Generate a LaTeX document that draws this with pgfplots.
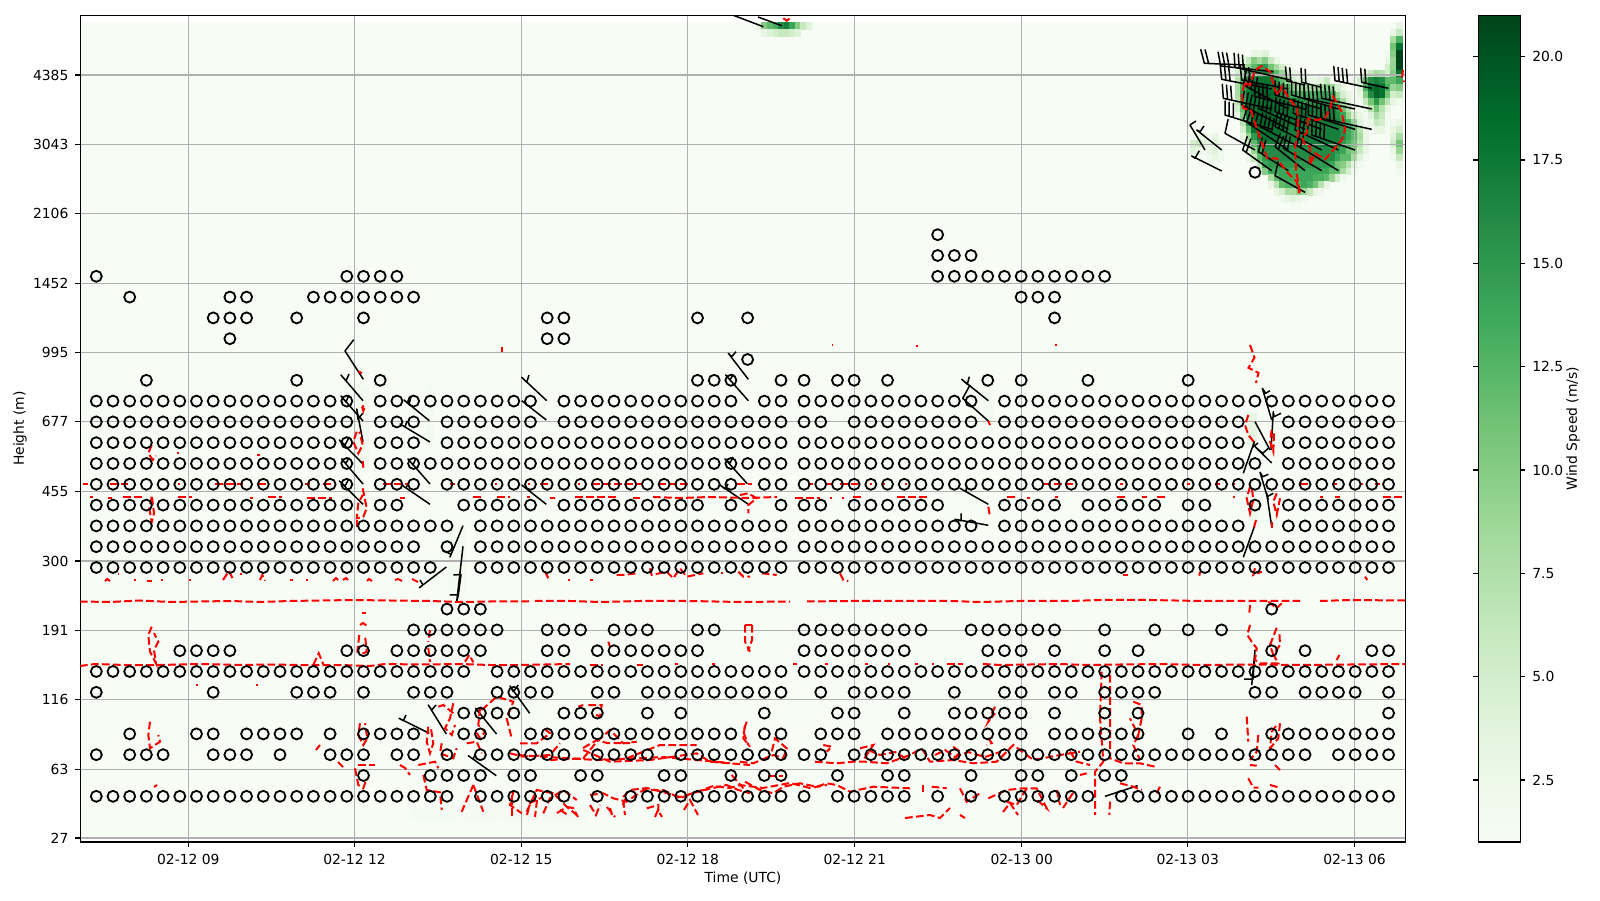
\documentclass[border=0pt]{standalone}
\usepackage{pgfplots}
\pgfplotsset{compat=1.18}
\usepackage{fontspec}
\setmainfont{DejaVu Sans}
\usepgfplotslibrary{patchplots}
\definecolor{gridc}{HTML}{B0B0B0}
\newcommand\fs{\fontsize{6.94}{8.3}\selectfont}
\pgfplotsset{
 colormap={greens}{rgb255=(247,252,245) rgb255=(229,245,224) rgb255=(199,233,192) rgb255=(161,217,155) rgb255=(116,196,118) rgb255=(65,171,93) rgb255=(35,139,69) rgb255=(0,109,44) rgb255=(0,68,27)},
 redst/.style={red,line width=1pt,dash pattern=on 3.85pt off 1.67pt},
 bbst/.style={black,line width=0.75pt,line join=round},
 circ/.style={only marks,mark=o,mark size=2.75pt,mark options={black,line width=0.9pt,solid},
   x filter/.expression={x<41.5 ? 96.3+16.7*x : 96.3+16.7*(x+0.38)},
   y filter/.expression={796.3-20.8*y}},
}
% heat cells
\gdef\hpts{}
\newcommand\hrect[5]{\xdef\hpts{\hpts (#1,#2)[#5](#3,#2)[#5](#3,#4)[#5](#1,#4)[#5]}}
\newcommand\hr[3]{\foreach \v [count=\ci from 0] in {#3}{%
  \pgfmathsetmacro\xa{1179+5.567*(#2+\ci)}\pgfmathsetmacro\xb{\xa+5.567}%
  \pgfmathsetmacro\ya{29+6.933*(#1)}\pgfmathsetmacro\yb{\ya+6.933}%
  \xdef\hpts{\hpts (\xa,\ya)[\v](\xb,\ya)[\v](\xb,\yb)[\v](\xa,\yb)[\v]}}}
\hrect{80.3}{22}{1401.7}{835}{1}
\hrect{357}{385}{368}{470}{1.7}
\hrect{358}{490}{367}{515}{1.5}
\hrect{427}{385}{432}{445}{1.5}
\hrect{448}{525}{465}{590}{1.5}
\hrect{983}{385}{993}{430}{1.6}
\hrect{1247}{413}{1256}{445}{3.4}
\hrect{1249}{500}{1257}{520}{2.2}
\hrect{410}{807}{455}{820}{1.4}
\hrect{463}{807}{497}{820}{1.3}
\hrect{500}{807}{587}{820}{1.25}
% top middle blob
\hr{-1}{-76}{3,10,12,13,16,17,14,10,6,4}
\hr{0}{-75}{3,4,5,6,6,5,4}
% right column and right blob
\hr{-1}{38}{1,3}
\hr{0}{38}{3,6}
\hr{1}{38}{8,13}
\hr{2}{38}{11,18}
\hr{3}{37}{2,10,21}
\hr{4}{37}{3,9,21}
\hr{5}{37}{5,9,21}
\hr{6}{33}{4,6,8,7,5,10,18}
\hr{7}{31}{3,5,12,16,17,16,12,12,14}
\hr{8}{29}{3,1.5,1.5,4,13,18,19,18,13,9,10}
\hr{9}{28}{9,5,3,1.5,3,10,16,19,18,11,5,6}
\hr{10}{27}{15,12,8,4,2,1.5,6,11,15,11,7,3,2}
\hr{11}{28}{15,11,7,3,1.5,3,7,11,7,3}
\hr{12}{28}{16,14,9,5,3,1.5,4,8,6,2}
\hr{13}{34}{3,6,5,1.5,2,3}
\hr{14}{35}{3,3,1.5,3,5}
\hr{15}{38}{4,8}
\hr{16}{38}{5,11}
\hr{17}{38}{3,9}
\hr{18}{38}{2,6}
\hr{19}{39}{3}
\hr{20}{39}{2}
% main blob
\hr{3}{13}{3,3,4}
\hr{4}{11}{3,6,10,8,10,6,3}
\hr{5}{11}{5,9,12,14,15,11,8,5,3}
\hr{6}{9}{2,5,8,13,15,16,17,15,12,9,5,3,3}
\hr{7}{10}{7,12,15,17,18,18,18,15,12,9,5,4,5,3,3,4,6}
\hr{8}{10}{8,14,17,18,19,19,18,18,15,13,10,8,9,8,8,9,10,9,5}
\hr{9}{10}{8,15,18,19,19,19,19,18,16,15,14,13,13,13,13,14,14,13}
\hr{10}{10}{7,14,18,18,18,18,18,18,18,18,18,16,15,15,15,16,16}
\hr{11}{10}{5,12,18,18,19,19,19,19,18,18,18,18,18,18,17,17,17,17}
\hr{12}{10}{3,10,17,19,19,19,19,18,18,18,18,18,18,18,17,17,17,17}
\hr{13}{11}{7,15,18,19,19,19,19,18,18,18,18,18,18,17,17,17,17,17,15,13,9,4,2}
\hr{14}{11}{5,12,18,18,18,18,18,18,17,17,17,17,17,17,17,17,17,17,16,14,12,7,3}
\hr{15}{11}{3,9,15,18,18,18,18,17,17,17,17,17,17,17,17,17,17,17,16,14,12,8,3}
\hr{16}{12}{6,12,16,17,17,17,17,17,17,17,17,17,17,17,17,17,17,15,13,11,7,3}
\hr{17}{12}{4,9,14,16,16,16,16,16,16,16,16,16,16,16,16,16,15,14,11,10,6,3}
\hr{18}{12}{3,6,12,15,16,16,16,16,16,16,16,16,16,16,16,16,14,12,12,8,4,2}
\hr{19}{14}{7,14,15,15,15,15,15,15,15,15,15,15,15,14,11,10,7,4,2}
\hr{20}{15}{10,14,14,14,14,14,14,14,14,14,14,14,12,12,8,5,2}
\hr{21}{16}{8,12,14,14,14,14,14,14,13,13,12,9,5,2}
\hr{22}{16}{3,7,12,13,13,13,14,13,11,7,3}
\hr{23}{17}{3,5,8,8,10,9,6,3,2}
\hr{24}{18}{2,3,4,3,2}
\hr{25}{20}{1.5,1.5}
% left small blob
\hr{15}{2}{2,3,3,1.5,3}
\hr{16}{2}{5,6,4,3,4,2}
\hr{17}{2}{4,3,2,3,4,2}
\hr{18}{5}{2,3,2}
\hr{19}{6}{2}
% circles
\gdef\cpts{}
\newcommand\crow[2]{\foreach \n in {#2}{\xdef\cpts{\cpts (\n,#1)}}}
\crow{0}{0,1,...,21,23,24,...,28,30,32,33,...,42,44,45,...,48,50,52,54,55,...,59,61,62,...,77}
\crow{1}{16,20,21,22,23,25,26,29,30,34,35,38,40,41,44,47,48,52,55,56,58,60,61}
\crow{2}{0,2,3,4,7,8,9,11,14,15,16,18,19,21,23,24,...,28,30,31,32,33,35,36,...,43,45,46,...,72,74,75,76,77}
\crow{3}{2,6,7,9,10,11,12,14,16,17,18,19,22,23,26,27,...,38,40,41,43,44,45,47,48,...,55,57,58,59,60,61,62,65,67,70,71,...,77}
\crow{4}{22,23,24,25,28,29,30,33,35,40,44,45,48,51,52,53,54,55,57,60,62,77}
\crow{5}{0,7,12,13,14,16,19,20,21,24,25,26,27,30,31,33,34,...,41,43,45,46,47,48,51,54,55,57,58,60,61,62,63,69,70,72,73,74,75,77}
\crow{6}{0,1,...,22,24,25,...,77}
\crow{7}{5,6,7,8,15,16,18,19,20,21,22,23,27,28,30,31,...,36,42,43,...,48,53,54,55,57,60,62,70,72,76,77}
\crow{8}{19,20,...,24,27,28,29,31,32,33,36,37,42,43,...,49,52,53,...,57,60,63,65,67}
\crow{9}{21,22,23,70}
\crow{11}{0,1,...,20,23,24,...,77}
\crow{12}{0,1,...,19,21,23,24,...,77}
\crow{13}{0,1,...,21,23,24,...,52,54,55,...,68,71,72,...,77}
\crow{14}{0,1,...,15,17,18,22,23,...,26,28,29,...,36,38,41,42,43,45,46,...,50,54,55,56,57,59,60,...,63,65,66,69,71,72,...,77}
\crow{15}{0,1,...,15,17,18,19,21,22,...,38,40,41,...,77}
\crow{16}{0,1,...,15,17,18,...,69,71,72,...,77}
\crow{17}{0,1,...,15,17,18,19,21,22,...,68,71,72,...,77}
\crow{18}{0,1,...,15,17,18,19,21,22,...,26,28,29,...,43,45,46,...,52,54,55,...,68,71,72,...,77}
\crow{19}{0,1,...,15,17,18,...,26,28,29,...,38,40,41,...,52,54,55,...,77}
\crow{20}{3,12,17,36,37,38,41,42,44,45,47,53,55,59,65}
\crow{21}{39}
\crow{22}{8,27,28}
\crow{23}{7,8,9,12,16,27,28,36,39,57}
\crow{24}{2,8,9,13,14,15,16,17,18,19,55,56,57}
\crow{25}{0,15,16,17,18,50,51,52,53,54,55,56,57,58,59,60}
\crow{26}{50,51,52}
\crow{27}{50}
\crow{30}{69}
\newcommand\rl[1]{\addplot[redst] coordinates {#1};}
\newcommand\rs[3]{\addplot[redst] coordinates {(#1,#3)(#2,#3)};}
\newcommand\bb[1]{\addplot[bbst] coordinates {#1};}
% feathered barb, in pixels of the crop around the upper right group
\newcommand\fb[5]{%
 \pgfmathsetmacro\fax{1180+#1/3}\pgfmathsetmacro\fay{30+#2/3}%
 \pgfmathsetmacro\fbx{1180+#3/3}\pgfmathsetmacro\fby{30+#4/3}%
 \pgfmathsetmacro\flen{veclen(\fbx-\fax,\fby-\fay)}%
 \pgfmathsetmacro\fux{(\fbx-\fax)/\flen}\pgfmathsetmacro\fuy{(\fby-\fay)/\flen}%
 \xdef\bpts{(\fax,\fay)(\fbx,\fby)}%
 \foreach \i in {1,...,#5}{%
  \pgfmathsetmacro\fpx{\fbx-\fux*4.3*(\i-1)}\pgfmathsetmacro\fpy{\fby-\fuy*4.3*(\i-1)}%
  \pgfmathsetmacro\fqx{\fpx+13.5*(-\fuy+0.3*\fux)}\pgfmathsetmacro\fqy{\fpy+13.5*(\fux+0.3*\fuy)}%
  \xdef\bpts{\bpts(\fpx,\fpy)(\fqx,\fqy)(\fpx,\fpy)}}%
 \edef\fbtmp{\noexpand\addplot[bbst] coordinates {\bpts};}\fbtmp}
\begin{document}
\begin{tikzpicture}
\path (0,0) rectangle (800pt,450pt);
\begin{axis}[
 at={(40.15pt,442.35pt)},anchor=north west,
 scale only axis,width=662.7pt,height=413.35pt,
 set layers=standard,
 xmin=80.3,xmax=1405.7,ymin=15.3,ymax=842,y dir=reverse,
 xtick={188.3,354.5,521.3,687.7,854.7,1021.7,1187.7,1354.5},
 xticklabels={02-12 09,02-12 12,02-12 15,02-12 18,02-12 21,02-13 00,02-13 03,02-13 06},
 ytick={75,144.4,213.9,283.3,352.7,421.5,491.6,561,630.3,699.7,769.1,838},
 yticklabels={4385,3043,2106,1452,995,677,455,300,191,116,63,27},
 xtick pos=bottom,ytick pos=left,
 tick align=outside,major tick length=2.43pt,
 tick style={black,line width=0.55pt},
 axis line style={black,line width=0.55pt},
 grid=major,grid style={gridc,line width=0.55pt},
 tick label style={font=\fs},
 label style={font=\fs},
 xlabel={Time (UTC)},ylabel={Height (m)},
 xlabel style={at={(axis description cs:0.5,-0.0435)},anchor=center},
 ylabel style={at={(axis description cs:-0.0455,0.5)},anchor=center},
 colormap name=greens,point meta min=1,point meta max=21,
 colorbar,
 colorbar/width=21pt,
 colorbar style={
  at={(1.0548,1)},anchor=north west,
  height=413.35pt,
  ytick={2.5,5,7.5,10,12.5,15,17.5,20},
  yticklabel style={font=\fs,/pgf/number format/fixed,/pgf/number format/fixed zerofill,/pgf/number format/precision=1,/pgf/number format/assume math mode=true},
  tick align=outside,major tick length=2.43pt,
  tick style={black,line width=0.55pt},
  axis line style={black,line width=0.55pt},
  ylabel={Wind Speed (m/s)},
  ylabel style={font=\fs,at={(rel axis cs:2.255,0.5)},anchor=center},
 },
]
\addplot[on layer=axis background,patch,patch type=rectangle,shader=flat,point meta=explicit,line width=0.1pt] coordinates {\hpts};
\edef\ctmp{\noexpand\addplot[circ] coordinates {\cpts};}\ctmp
% barbs at column 16
\bb{(363.3,379.3)(345,351)(353.7,339.7)}
\bb{(363,400.7)(341,375)(346,381)(349,374)}
\bb{(363,421)(341,396)(346,402)(349,395)}
\bb{(363,442)(356.7,409)(358,419.3)(362.7,413.3)}
\bb{(363,464)(339.3,440)(345,445)(349.3,437)}
\bb{(363,484)(341.7,459)(345.7,463.3)(349.3,457.7)}
\bb{(363,504.3)(339.3,481)(345,486)(348.7,479.3)}
% column 20
\bb{(429.3,420.7)(404,400)(409,404.3)(411.3,395.7)}
\bb{(430,442)(400,424)(405,427)(407,421)}
\bb{(430,484)(408,459)(413,465)(416,458)}
\bb{(430,504.3)(401.7,485)(406,488)(409,482)}
\bb{(463,525.7)(450,557)(451,554)(443,551)}
\bb{(463,546.3)(456.7,601.7)(458.3,595)(450,595)(458.3,595)(461,574.5)(453.3,575)}
\bb{(446.3,567)(419.3,587.7)(423,585)(420,580)}
\bb{(546.7,400.7)(521.7,377.3)(526.7,382.3)(529,375)}
\bb{(546.3,420)(521.7,400.7)}
\bb{(546.3,504.3)(521.7,485)}
\bb{(529.7,713.3)(510,686)(513.3,691.7)(518.3,685)}
\bb{(496.5,734)(475.7,708.3)(478,711.7)(481.7,707.7)}
\bb{(446.3,734)(428.3,705)(431.7,710)(436,705)}
\bb{(429.3,733.3)(399,718.3)(403.3,720.7)(406,715)}
\bb{(496.3,775.7)(468.3,755.7)(473,759)(475,755)}
\bb{(748.3,400.7)(725.7,375)(730,380)(733.3,374.3)}
\bb{(748.3,379.3)(728.3,353.3)(731.7,356.7)(736,351.7)}
\bb{(747.3,483.7)(725,459)(730,463)(733,457)}
\bb{(748.3,504.3)(720,485)(725,489)(728,484)}
\bb{(988.3,400.7)(961.7,379.3)(967.3,384.3)(969.3,376.7)}
\bb{(988.3,421)(962.7,398.3)(970,385)}
\bb{(988.3,504.3)(960,488.3)(966,491.7)(966.7,485)}
\bb{(988.3,525.3)(955,519.3)(961,520.7)(961,513.3)}
\bb{(1105,796.3)(1137.7,785.7)}
\bb{(1271.7,420)(1262.3,388.3)(1265.7,393.3)(1270,390.7)}
\bb{(1271,450)(1273.3,411.7)(1274,416.7)(1281,413.3)}
\bb{(1270,450)(1255,421.7)}
\bb{(1271.7,463)(1255,446.7)(1262.7,453.3)(1268.3,448.3)}
\bb{(1243.3,473.3)(1254.3,441.7)(1253,447)(1258,443)}
\bb{(1271.7,526.7)(1266.7,493.3)(1267.3,496.7)(1273.3,493.3)}
\bb{(1268.3,500)(1260,472.3)(1262.7,476.7)(1268.3,474.3)}
\bb{(1243.3,557.3)(1254.3,526.7)}
\bb{(1251.7,685)(1255,650)(1253,679)(1244,679)}
\bb{(733.3,15.3)(763.3,26.7)}
\bb{(758,17)(781.7,25.7)}
% upper right group
\fb{195}{105}{73}{100}{2}
\fb{280}{125}{122}{108}{3}
\fb{330}{150}{165}{112}{3}
\fb{625}{175}{545}{157}{2}
\fb{575}{175}{465}{152}{4}
\fb{425}{172}{365}{157}{2}
\fb{375}{165}{320}{153}{2}
\fb{325}{177}{185}{150}{3}
\fb{275}{177}{125}{148}{3}
\fb{575}{237}{425}{205}{4}
\fb{525}{237}{375}{205}{4}
\fb{475}{237}{335}{195}{4}
\fb{425}{237}{285}{195}{4}
\fb{375}{237}{225}{200}{4}
\fb{325}{237}{190}{165}{4}
\fb{275}{237}{130}{205}{3}
\fb{575}{298}{425}{265}{4}
\fb{525}{298}{385}{255}{4}
\fb{475}{298}{340}{250}{4}
\fb{425}{298}{285}{245}{4}
\fb{375}{298}{235}{235}{4}
\fb{325}{298}{185}{225}{4}
\fb{275}{298}{135}{255}{3}
\fb{525}{360}{395}{315}{4}
\fb{475}{360}{345}{300}{4}
\fb{425}{360}{285}{290}{4}
\fb{375}{360}{240}{290}{4}
\fb{325}{360}{190}{270}{4}
\fb{475}{422}{350}{345}{2}
\fb{425}{422}{310}{355}{2}
\fb{375}{422}{285}{350}{2}
\fb{325}{422}{235}{365}{2}
\fb{275}{422}{188}{360}{2}
\fb{375}{487}{285}{437}{1}
\fb{225}{360}{135}{310}{1}
\bb{(1221.7,150)(1196.7,130)(1200,131.7)(1204,126)}
\bb{(1205,150)(1190,125)(1196,121)}
\bb{(1221.7,171)(1191.7,156)(1195,158.3)(1199.3,150.7)}
% contour pieces: long lines
\rl{(80,601.5)(110,602)(140,600.5)(170,602)(200,601.5)(230,601)(260,602)(290,601)(320,600.5)(354,600)(390,600.5)(430,601)(460,602)(490,601.5)(530,601.5)}
\rl{(535,601)(570,601)(600,602)(640,601)(690,601)(740,602)(790,601.5)}
\rl{(807,601.5)(850,601)(900,601)(950,601)(980,602)(1020,601)(1070,601)(1100,600)(1150,600)(1200,601)(1250,601)(1300,601)}
\rl{(1320,601)(1350,600)(1405,600.5)}
\rl{(80,666)(95,664)(125,665)(160,665)(200,664)(240,665)(270,664.5)(300,665)(340,665)(370,666)(385,664)(420,664.5)(460,664)(490,665)(520,665)(570,664)}
\rs{590}{603}{664.5}\rs{637}{643}{664.5}\rs{675}{678}{664}\rs{712}{715}{664}
\rs{793}{797}{664}\rs{825}{828}{664}\rs{865}{868}{664}\rs{888}{890}{664}\rs{915}{918}{664}\rs{932}{934}{664}\rs{947}{963}{664}
\rl{(983,664)(1000,665)(1030,664.5)(1060,664)(1085,665)(1120,664.5)(1160,664)(1200,665)(1250,664.5)(1300,665)(1350,664.5)(1405,664)}
\rl{(313.3,665)(318.7,653.3)(323.3,664.3)}
\rl{(465,661.7)(469.3,655)(473.3,662.3)}
\rl{(1336.7,660)(1339.3,655)}
% line near 497
\rs{90}{93}{497}\rs{108}{112}{498}\rs{123}{142}{497.5}\rs{178}{192}{497}\rs{250}{253}{498}\rs{268}{282}{497}\rs{307}{332}{498}\rs{400}{405}{498}\rs{473}{483}{497}\rs{497}{510}{497}\rs{527}{530}{497}\rs{550}{555}{498}\rs{575}{617}{497.5}\rs{633}{640}{498}
\rl{(653,497)(680,498)(710,497)(747,498)(777,497)}
\rs{795}{820}{498}\rs{830}{832}{498}\rs{842}{844}{498}\rs{853}{862}{497.5}\rs{897}{927}{497.5}\rs{1007}{1015}{497.5}\rs{1027}{1030}{498}\rs{1055}{1058}{497.5}\rs{1117}{1127}{497.5}\rs{1142}{1147}{497.5}\rs{1157}{1167}{497.5}\rs{1233}{1235}{497.5}\rs{1320}{1323}{497.5}\rs{1335}{1340}{497.5}\rs{1383}{1402}{497.5}
% line near 484
\rs{83}{88}{484}\rs{110}{128}{484}\rs{178}{180}{484}\rs{215}{243}{484}\rs{258}{267}{484}\rs{305}{310}{484}\rs{323}{333}{484}\rs{383}{408}{484}\rs{450}{455}{484}\rs{495}{497}{484}\rs{528}{530}{484}\rs{540}{550}{484}\rs{578}{580}{484}\rs{592}{643}{484}\rs{658}{690}{484}\rs{737}{752}{484}\rs{808}{813}{484}\rs{827}{832}{484}\rs{840}{858}{484}\rs{870}{872}{484}\rs{883}{885}{484}\rs{905}{907}{484}\rs{1043}{1073}{484}\rs{1120}{1123}{484}\rs{1187}{1190}{484}\rs{1215}{1220}{484}\rs{1233}{1235}{484}\rs{1300}{1308}{484}\rs{1333}{1337}{484}\rs{1360}{1363}{484}\rs{1375}{1380}{484}
% small pieces near 580
\rl{(105,581)(107.3,579)(110,581)}\rs{118}{119}{574}\rs{134}{136}{580}\rs{147}{152}{580.7}\rs{161}{163}{580}\rs{189}{191}{580}
\rl{(223,580)(229,571)(233.3,580)}\rs{240}{242}{574}\rl{(260,580)(262.3,575)(265,580.7)}\rs{290}{293}{580.5}\rs{306}{308}{580}
\rl{(333,581)(336,578)(338,580)}\rl{(343,580)(346,578)(348,580)}\rl{(367,581)(369,579)(372,581)}\rl{(395,580)(398,579)(402,581)}\rl{(412,579)(418,582)}
\rl{(545,571.7)(548.3,578.3)}\rs{568}{570}{580}\rs{590}{593}{580}
\rl{(616.7,575)(623.3,575)(636.7,573.3)}\rl{(650,568.3)(651.7,575)(666.7,571.7)(673.3,578.3)(680,568.3)(686.7,576.7)(703.3,573.3)}\rs{721}{723}{573}
\rl{(738.3,571.7)(743.3,576.7)(750,576.7)}\rl{(761.7,573.3)(776.7,575)}\rl{(840,573.3)(843.3,580)(848.3,581)}
\rl{(1123.3,575)(1128.3,575)}\rl{(1200,571.7)(1199.3,575.7)}\rl{(1255,568.3)(1253.3,575)(1261.7,571.7)}\rl{(1365,576.7)(1367.3,580)}
% loops near column 3
\rl{(151.7,445)(148.3,453.3)(152.7,460)(156,455.7)}
\rl{(151.7,496.7)(149.3,508.3)(151.7,522.3)(154,513.3)(152,497)}
\rl{(151.7,626.7)(148.3,635)(150,651.7)(156,663.3)(154,650)(158.3,641.7)(154,633)}
\rl{(150,721.7)(148.3,735)(150,748.3)(160,741.7)(158.3,735)}
\rs{177}{179}{453}\rs{257}{260}{455}\rs{196}{198}{685}\rs{256}{258}{685}
\rl{(157,785)(154,787)}
% loops near column 16
\rl{(362,406.7)(363.3,411)(365,405.7)(362,406.7)}
\rl{(358.3,371.7)(362,373)}
\rl{(356.7,431.7)(353.3,441.7)(358.3,453.3)(362.7,445)(359.3,431.7)}
\rl{(362.7,461)(363.3,467.7)}
\rl{(362.7,488.3)(366.7,508.3)(363.3,516.7)(356.7,518.3)(358.3,503.3)(362.7,495)}
\rl{(356.7,520)(356.7,526.7)}
\rl{(361.7,612.7)(366,612.7)}
\rl{(360,625)(363,623)(367,626)}
\rl{(359.3,635)(357.3,651.7)(363.3,653.3)(366.7,651.7)(365,635)}
\rl{(360,723.3)(358.3,735)(363.3,745)(367.3,738.3)(365,723.3)}
\rl{(358.3,765)(375,765)}
\rl{(355,768.3)(358.3,785)(363.3,788.3)(366.7,778.3)}
\rl{(316,750)(320,745)}\rl{(338,762)(343,767)}\rl{(400,765)(405,768)(410,775)}
\rl{(430,630)(428.3,642)}\rl{(428.3,648)(430,662)}
\rl{(501.7,347)(501.7,352)}\rs{831.7}{833}{345}\rs{916}{917.7}{345.7}\rs{1055}{1057}{345.3}
\rl{(1250,345)(1254.5,357.6)(1248.5,367.8)(1258.5,373)(1256,383)}
% lower part
\rl{(453.3,703.3)(450,718.3)(445,728.3)(451.7,735)(455,725)}
\rl{(438.3,706.7)(443.3,705)(453.3,713.3)}
\rl{(428.3,726.7)(426.7,741.7)(430,753.3)(433.3,743.3)(430.7,726.7)}
\rl{(441.7,743.3)(440,753.3)(453.3,758.3)(456.7,748.3)}
\rl{(418.3,765)(435,761.7)(438.3,768.3)}
\rl{(423.3,775)(426.7,790)(440,792.3)(441.7,810)}
\rl{(473.3,785)(461.7,811.7)}
\rl{(473.3,785)(483.3,811.7)}
\rl{(466.7,743.3)(476.7,741.7)(481.7,753.3)}
\rl{(480,708.3)(478.3,725)(485,731.7)(480,738.3)(476,731.7)}
\rl{(481.7,710)(496.7,696.7)(513.3,701.7)(506.7,718.3)(511.7,738.3)}
\rl{(520,743.3)(536.7,743.3)(550,733.3)(541.7,726.7)}
\rl{(510,753.3)(523.3,756.7)(550,755)(560,743.3)}
\rl{(550,760)(583.3,758.3)(596.7,741.7)(610,730)(623.3,743.3)(636.7,741.7)}
\rl{(583.3,750)(610,761.7)(650,760)(673.3,756.7)(696.7,753.3)(710,761.7)(750,765)}
\rl{(626.7,758.3)(660,745)(696.7,745)}
\rl{(518,755)(563,758)(597,760)(663,757)(697,760)(730,763)}
\rl{(583,748)(597,740)(607,743)(630,743)}
\rl{(578.3,706.7)(583.3,705)}
\rl{(588.3,705)(601.7,705)(600,716.7)(593.3,713.3)}
\rl{(608.3,641.7)(610,646.7)}
\rl{(745,725)(743.3,738.3)(750,746.7)}
\rl{(745,625)(745,641.7)(750,651.7)}
\rl{(752,625)(752,640)(748,651)}
\rl{(513.3,791.7)(510,805)(521.7,813.3)}
\rl{(526.7,811.7)(536.7,790)(553.3,793.3)(566.7,806.7)(576.7,815)}
\rl{(543.3,813.3)(550,798.3)(563.3,790)(576.7,800)}
\rl{(590,795)(603.3,793.3)(613.3,798.3)(626.7,801.7)(643.3,790)(663.3,790)(680,798.3)(696.7,791.7)(726.7,785)(738.3,790)(750,793.3)}
\rl{(623,797)(630,790)(647,788)(663,792)(680,797)(697,792)(713,786)(730,788)(740,785)(763,788)(790,783)(810,788)(827,785)}
\rl{(512,797)(512,817)}\rl{(537,800)(535,817)}\rl{(527,815)(530,803)(543,797)}
\rl{(557,813)(567,807)(573,808)(578,817)}\rl{(607,807)(615,817)}\rl{(623,800)(625,815)}\rl{(655,817)(658,810)(662,817)}
\rl{(623,805)(627,795)}\rl{(610,808)(612,815)}\rl{(646.7,808.3)(658.3,805)(658.3,813.3)}
\rl{(731.7,775)(743.3,788.3)}
\rl{(590,805)(596,815)(600,805)}\rl{(560,810)(568,815)}\rl{(684,810)(690,800)(698,815)}
\rl{(740,761.7)(753.3,763.3)(773.3,755)(783.3,758.3)(786.7,748.3)(775,738.3)(771.7,751.7)}
\rl{(746.7,721.7)(743.3,731.7)(748.3,745)}
\rl{(815,761.7)(836.7,763.3)(853.3,761.7)(865,761.7)(886.7,763.3)(910,755)(921.7,748.3)(930,761.7)(953.3,760)(973.3,763.3)(996.7,761.7)(1013.3,745)(1033.3,760)(1060,755)(1080,751.7)}
\rl{(823.3,745)(831.7,746.7)(826.7,751.7)}
\rl{(860,748.3)(873.3,745)(863.3,760)}
\rl{(868,750)(880,755)(895,752)(905,758)}
\rl{(935,755)(945,750)(955,757)(968,752)(985,757)(1000,752)}
\rl{(953.3,746.7)(960,751.7)(953.3,760)}
\rl{(995,706.7)(988.3,721.7)(995,713.3)}
\rl{(988.3,738)(991.7,743)(986.7,745)}
\rl{(745,781.7)(760,790)(773.3,793.3)(783.3,786.7)(800,783.3)(816.7,786.7)(826.7,783.3)(836.7,785)(850,791.7)(873.3,786.7)(910,788.3)}
\rl{(768.3,775.7)(783.3,775.7)}
\rl{(923.3,785)(923.3,791.7)}
\rl{(931.7,786.7)(946.7,788.3)}
\rl{(960,788.3)(966.7,801.7)(980,793.3)}
\rl{(988.3,798.3)(1006.7,790)(1023.3,788.3)(1036.7,788.3)(1046.7,808.3)(1035,798.3)}
\rl{(1006.7,801.7)(1016.7,805)(1026.7,788.3)}
\rl{(1056.7,790)(1060,805)}
\rl{(1073,793)(1063,808)}
\rl{(1003,812)(1010,803)(1018,815)}
\rl{(905,818)(930,815)(940,818)(950,808)}\rl{(960,815)(965,818)}
\rl{(1101.7,671.7)(1100,718)(1103.3,761.7)(1095,771.7)(1095,815)}
\rl{(1110,675)(1110,718.3)(1110,758.3)(1123.3,763.3)(1140,763.3)(1155,766.7)}
\rl{(1110,801.7)(1109.3,815)}
\rl{(1133.3,701.7)(1141.7,705)(1141.7,718.3)(1138.3,735)(1130,718.3)}
\rl{(1138.3,735)(1133.3,745)(1140,760)}
\rl{(1070,751.7)(1076.7,761.7)(1090,765)}
\rl{(1080,775)(1086.7,773.3)}
\rl{(1120,783.3)(1133.3,786.7)(1141.7,790)}
\rl{(1156.7,793.3)(1160,786.7)}
\rl{(1246.7,716.7)(1248.3,741.7)}
\rl{(1258.3,735)(1256.7,751.7)(1250,760)}
\rl{(1250,765)(1256.7,765.7)}
\rl{(1248.3,778.3)(1253.3,787.7)(1258.3,787.7)}
\rl{(1270,785)(1280,787.7)}
\rl{(1280,723.3)(1278.3,738.3)(1270,748.3)(1271.7,731.7)(1276.7,725)}
\rl{(1275,765)(1280,770)}
\rl{(1250,605)(1249.3,613.3)}
\rl{(1250,625)(1247.3,635)(1251.7,641.7)(1256.7,648.3)(1255,660)(1260,663.3)(1278.3,663.3)(1271.7,651.7)}
\rl{(1276.7,627.7)(1270,645)(1273.3,655)(1280,645)(1279.3,631.7)}
\rl{(1268.3,601.7)(1276.7,608.3)(1281.7,603.3)}
\rl{(1248.3,415)(1245,425)(1248.3,435)(1255,443.3)}
\rl{(1271.7,430)(1270,441.7)(1273.3,451.7)(1274,433.3)}
\rl{(1250,486.7)(1246.7,498.3)(1250,513.3)(1253.3,500)(1251.7,486.7)}
\rl{(1276.7,493.3)(1273.3,501.7)(1276.7,515)(1280,498.3)}
\rl{(1256,520)(1253.3,530)}
\rl{(1271.7,521.7)(1271.7,527.7)}
\rl{(740,495)(748.3,493.3)(756.7,498.3)(748.3,505)(748.3,513.3)}
\rl{(988.3,506.7)(990,516.7)}
\rl{(988.3,421)(990,425)}
\rl{(745,625)(752,625)}
% upper right contours
\rl{(1245,83.3)(1241.7,93.3)(1243.3,108.3)(1250.7,110)(1258.3,133.3)(1263.3,146.7)(1267.3,158.3)(1276.7,158.3)(1286.7,171.7)(1296.7,181.7)(1299.3,193.3)}
\rl{(1245,83.3)(1250,85)(1255,70)(1261.7,66)(1270,71.7)(1275,90)(1278.3,95)(1281.7,86.7)(1290,100)(1297.3,108.3)(1298.3,133.3)(1295,146.7)(1296,170)(1300,193.3)}
\rl{(1308.3,118.3)(1306.7,133.3)(1301.7,136.7)(1305,145)(1310,146.7)(1310,165)(1315,153.3)(1325,159.3)(1333.3,150)(1341.7,140)(1345,130)(1341.7,111.7)(1333.3,96.7)(1330,108.3)(1325,118.3)(1316.7,120)(1308.3,118.3)}
\rl{(1403,70)(1402,78)(1404,82)}
\rl{(783.3,18.3)(786.7,20.7)(790,18.3)}
\end{axis}
\end{tikzpicture}
\end{document}
